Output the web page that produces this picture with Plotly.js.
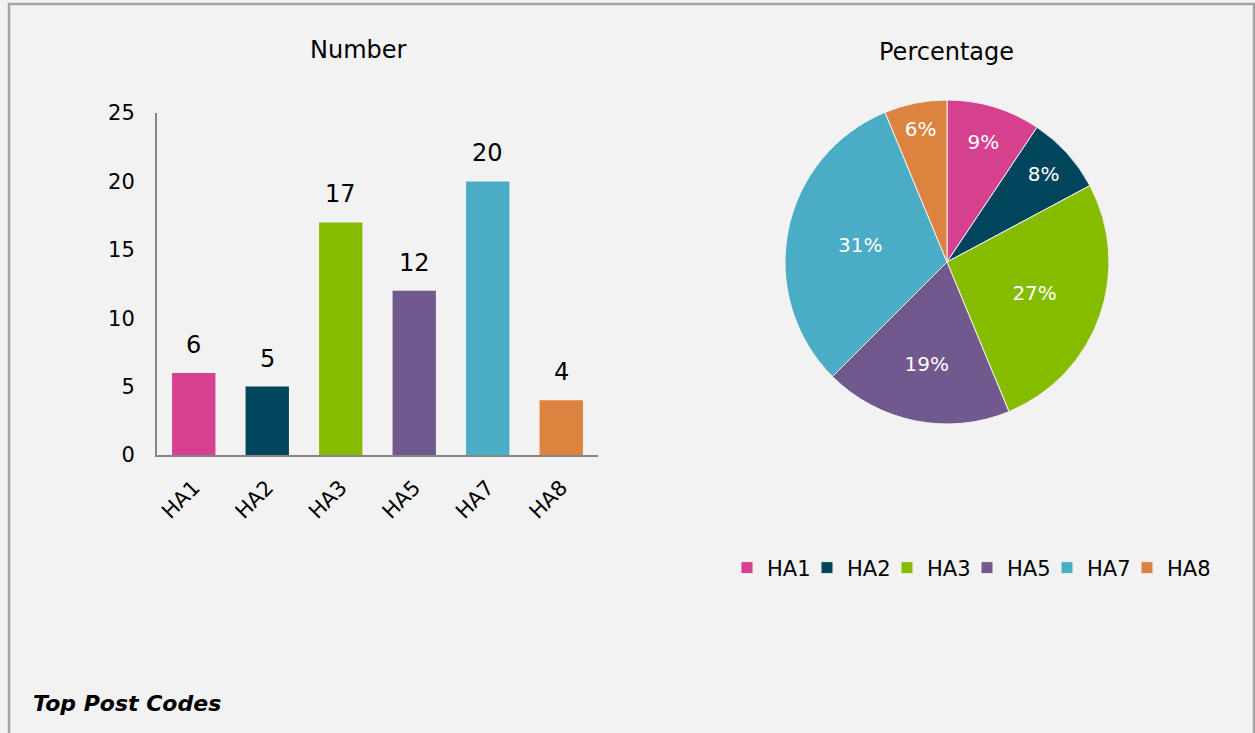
<!DOCTYPE html>
<html>
<head>
<meta charset="utf-8">
<script src="https://cdn.plot.ly/plotly-3.0.1.min.js"></script>
<style>
html,body{margin:0;padding:0;background:#f2f2f2;overflow:hidden;width:1255px;height:733px;}
#chart{width:1255px;height:733px;display:block;overflow:hidden;}
.legend .scrollbox{clip-path:none !important;}
</style>
</head>
<body>
<div id="chart"></div>
<script>
const categories = ["HA1", "HA2", "HA3", "HA5", "HA7", "HA8"];
const counts = [6, 5, 17, 12, 20, 4];
const colors = ["#d5408f", "#01455d", "#85bc00", "#72598d", "#4aacc5", "#dc843f"];
const yTicks = [0, 5, 10, 15, 20, 25];
const barTitle = "Number";
const pieTitle = "Percentage";
const footer = "Top Post Codes";

const W = 1255, H = 733;
const px = x => x / W;
const py = y => 1 - y / H;
const FONT = "DejaVu Sans, Verdana, sans-serif";

const barTrace = {
  type: "bar",
  x: categories,
  y: counts,
  marker: {color: colors},
  showlegend: false,
  hoverinfo: "x+y",
  xaxis: "x", yaxis: "y"
};

const pieTrace = {
  type: "pie",
  labels: categories,
  values: counts,
  marker: {colors: colors, line: {color: "#f2f2f2", width: 1}},
  sort: false,
  direction: "clockwise",
  rotation: 0,
  textinfo: "percent",
  texttemplate: "%{percent:.0%}",
  textposition: "inside",
  insidetextorientation: "horizontal",
  insidetextfont: {color: "#ffffff", size: 20, family: FONT},
  domain: {x: [px(785), px(1109)], y: [py(424), py(100)]},
  showlegend: true
};

const annotations = categories.map((c, i) => ({
  x: c, y: counts[i], xref: "x", yref: "y",
  text: String(counts[i]), showarrow: false,
  yanchor: "bottom", yshift: 12,
  font: {size: 24, color: "#000", family: FONT}
}));
annotations.push(
  {x: px(358), y: py(50), xref: "paper", yref: "paper", text: barTitle, showarrow: false,
   xanchor: "center", yanchor: "middle", font: {size: 24, color: "#000", family: FONT}},
  {x: px(946), y: py(52), xref: "paper", yref: "paper", text: pieTitle, showarrow: false,
   xanchor: "center", yanchor: "middle", font: {size: 24, color: "#000", family: FONT}},
  {x: px(31), y: py(703), xref: "paper", yref: "paper", text: "<b><i>" + footer + "</i></b>", showarrow: false,
   xanchor: "left", yanchor: "middle", font: {size: 22, color: "#000", family: FONT}}
);

const layout = {
  width: W, height: H,
  autosize: false,
  margin: {l: 0, r: 0, t: 0, b: 0, pad: 0},
  paper_bgcolor: "#f2f2f2",
  plot_bgcolor: "rgba(0,0,0,0)",
  font: {family: FONT, color: "#000"},
  bargap: 0.41,
  xaxis: {
    domain: [px(157), px(598)],
    anchor: "y",
    tickangle: -45,
    tickfont: {size: 21, color: "#000", family: FONT},
    showline: true, linecolor: "#868686", linewidth: 2,
    ticks: "", showgrid: false, zeroline: false,
    ticklabelstandoff: 10,
    fixedrange: true
  },
  yaxis: {
    domain: [py(455), py(113)],
    anchor: "x",
    range: [0, 25],
    tickvals: yTicks,
    ticktext: yTicks.map(String),
    tickfont: {size: 21, color: "#000", family: FONT},
    showline: true, linecolor: "#868686", linewidth: 2,
    ticks: "", ticklen: 0, showgrid: false, zeroline: false,
    ticklabelstandoff: 16,
    fixedrange: true
  },
  legend: {
    orientation: "h",
    x: px(727), y: py(568),
    xanchor: "left", yanchor: "middle",
    font: {size: 21, color: "#000", family: FONT},
    bgcolor: "rgba(0,0,0,0)",
    itemwidth: 30,
    entrywidth: 35,
    entrywidthmode: "pixels",
    tracegroupgap: 0
  },
  shapes: [
    {type: "rect", xref: "paper", yref: "paper",
     x0: px(9), x1: px(1254), y0: py(760), y1: py(4),
     line: {color: "#a6a6a6", width: 2.5}, fillcolor: "rgba(0,0,0,0)", layer: "below"}
  ],
  annotations: annotations
};

Plotly.newPlot("chart", [barTrace, pieTrace], layout, {displayModeBar: false, responsive: false});
</script>
</body>
</html>
